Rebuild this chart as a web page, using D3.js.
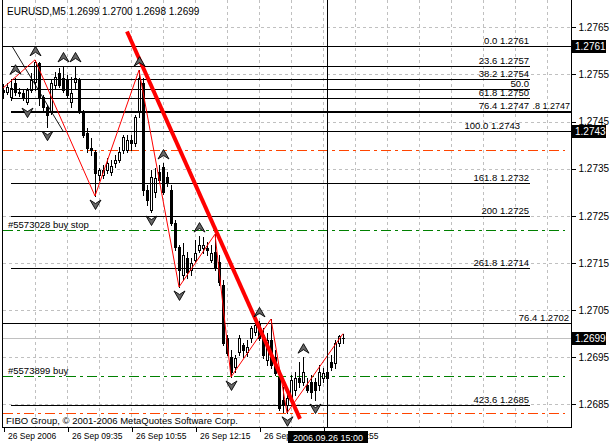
<!DOCTYPE html>
<html>
<head>
<meta charset="utf-8">
<title>EURUSD,M5</title>
<style>
  body { margin:0; background:#fff; }
  svg { display:block; font-family:"Liberation Sans", Arial, sans-serif; }
  .grid line { stroke:#c0c0c0; stroke-dasharray:3,3; shape-rendering:crispEdges; }
  .lbl { font-size:9.5px; fill:#000; }
  .axis text { font-size:10px; fill:#000; }
  .axis line { stroke:#000; shape-rendering:crispEdges; }
  .taxis text { font-size:8.5px; }
</style>
</head>
<body>
<svg id="chart" width="611" height="445"></svg>
<script src="https://cdn.jsdelivr.net/npm/d3@7"></script>
<script>
// 5 minute bars, 26 Sep 2006 from 08:15
var opens = [1.27517,1.27513,1.27502,1.27532,1.27513,1.27511,1.27491,1.27517,1.27534,1.27574,
  1.27502,1.27481,1.27470,1.27528,1.27553,1.27542,1.27538,1.27491,1.27534,1.27538,
  1.27470,1.27426,1.27394,1.27385,1.27337,1.27337,1.27347,1.27343,1.27362,1.27368,
  1.27390,1.27390,1.27411,1.27404,1.27470,1.27532,1.27305,1.27262,1.27301,1.27343,
  1.27354,1.27332,1.27305,1.27235,1.27184,1.27124,1.27160,1.27135,1.27156,1.27177,
  1.27182,1.27182,1.27156,1.27173,1.27152,1.27103,1.26991,1.26950,1.26929,1.26961,
  1.26976,1.26961,1.26991,1.27003,1.27023,1.26997,1.26944,1.26986,1.26950,1.26908,
  1.26859,1.26849,1.26863,1.26880,1.26906,1.26897,1.26891,1.26897,1.26897,1.26891,
  1.26906,1.26906,1.26940,1.26938,1.26980,1.26990];
var highs = [1.27530,1.27532,1.27538,1.27542,1.27521,1.27517,1.27521,1.27553,1.27581,1.27576,
  1.27506,1.27485,1.27538,1.27555,1.27564,1.27568,1.27549,1.27545,1.27568,1.27542,
  1.27475,1.27436,1.27415,1.27390,1.27351,1.27358,1.27373,1.27368,1.27379,1.27396,
  1.27421,1.27421,1.27421,1.27464,1.27559,1.27542,1.27315,1.27347,1.27351,1.27358,
  1.27362,1.27343,1.27315,1.27241,1.27188,1.27192,1.27173,1.27160,1.27199,1.27207,
  1.27205,1.27194,1.27188,1.27211,1.27167,1.27114,1.26997,1.26965,1.26955,1.26997,
  1.26980,1.26986,1.27016,1.27020,1.27027,1.27012,1.27001,1.27031,1.26965,1.26919,
  1.26887,1.26870,1.26912,1.26919,1.26940,1.26950,1.26906,1.26912,1.26906,1.26933,
  1.26927,1.26933,1.26955,1.26986,1.26998,1.27000];
var lows = [1.27500,1.27508,1.27496,1.27506,1.27504,1.27496,1.27487,1.27513,1.27517,1.27485,
  1.27475,1.27438,1.27466,1.27521,1.27523,1.27513,1.27502,1.27481,1.27521,1.27468,
  1.27417,1.27385,1.27379,1.27292,1.27326,1.27330,1.27341,1.27337,1.27354,1.27364,
  1.27383,1.27385,1.27390,1.27398,1.27460,1.27294,1.27273,1.27258,1.27290,1.27322,
  1.27296,1.27313,1.27230,1.27177,1.27099,1.27114,1.27118,1.27124,1.27152,1.27173,
  1.27171,1.27167,1.27152,1.27135,1.27103,1.26976,1.26955,1.26908,1.26919,1.26955,
  1.26950,1.26952,1.26982,1.26997,1.26986,1.26948,1.26933,1.26927,1.26912,1.26838,
  1.26834,1.26832,1.26855,1.26870,1.26887,1.26891,1.26876,1.26863,1.26859,1.26880,
  1.26897,1.26902,1.26923,1.26927,1.26974,1.26980];
var closes = [1.27513,1.27523,1.27521,1.27513,1.27511,1.27500,1.27517,1.27538,1.27576,1.27502,
  1.27481,1.27464,1.27532,1.27545,1.27528,1.27517,1.27506,1.27511,1.27542,1.27470,
  1.27421,1.27394,1.27390,1.27341,1.27347,1.27347,1.27362,1.27356,1.27368,1.27385,
  1.27417,1.27411,1.27404,1.27460,1.27542,1.27305,1.27284,1.27332,1.27330,1.27326,
  1.27301,1.27320,1.27235,1.27184,1.27135,1.27167,1.27131,1.27150,1.27171,1.27188,
  1.27188,1.27177,1.27171,1.27139,1.27110,1.26980,1.26959,1.26919,1.26948,1.26991,
  1.26965,1.26972,1.27012,1.27018,1.26991,1.26955,1.26986,1.26933,1.26916,1.26842,
  1.26849,1.26863,1.26902,1.26906,1.26897,1.26919,1.26880,1.26876,1.26880,1.26919,
  1.26916,1.26919,1.26929,1.26980,1.26995,1.26990];

var zzBars   = [0, 8, 23, 34, 44, 53, 57, 67, 71, 85];
var zzPrices = [1.27521, 1.27581, 1.27292, 1.27559, 1.27099, 1.27211, 1.26908, 1.27031, 1.26832, 1.27000];

var upFractals   = [3, 8, 15, 18, 34, 40, 49, 64, 75];
var downFractals = [6, 11, 23, 37, 44, 57, 71, 78];

var trendBars   = [31, 74.25];
var trendPrices = [1.27641, 1.26819];

var fibBars   = [2.25, 15];
var fibPrices = [1.2761, 1.2743];
var fibLevels = [1.2761, 1.27568, 1.27541, 1.2752, 1.27499, 1.27472, 1.2743, 1.27319, 1.2725, 1.27139, 1.26848];
var fibTexts  = ["0.0 1.2761", "23.6 1.2757", "38.2 1.2754", "50.0", "61.8 1.2750", "76.4 1.2747",
                 "100.0 1.2743", "161.8 1.2732", "200 1.2725", "261.8 1.2714", "423.6 1.2685"];

var hLines     = [1.2761, 1.2743, 1.27022];
var thickLine  = 1.27472;
var bidPrice   = 1.2699;
var redOrders  = [1.27389, 1.26831];
var greenOrders = [1.27220, 1.26909];
var greenTexts  = ["#5573028 buy stop", "#5573899 buy"];

var priceTicks = [1.2765, 1.2755, 1.2745, 1.2735, 1.2725, 1.2715, 1.2705, 1.2695, 1.2685];
var priceMarks = [1.2761, 1.2743, 1.2699];
var timeTicks  = [0, 16, 32, 48, 64, 80];
var timeLabels = ["26 Sep 2006", "26 Sep 09:35", "26 Sep 10:55", "26 Sep 12:15", "26 Sep 13:35", "26 Sep 14:55"];
var vLineBar = 81, vLineText = "2006.09.26 15:00";

var left = 3, right = 571.5, bottom = 427.5;

var x = d3.scaleLinear().domain([0, 142]).range([3, 571]);
var y = d3.scaleLinear().domain([1.2765, 1.2685]).range([27.3, 404.3]);
function px(v) { return Math.round(v) + 0.5; }

var svg = d3.select("#chart");

// grid
var grid = svg.append("g").attr("class", "grid");
grid.selectAll(".h").data(priceTicks).enter().append("line")
  .attr("x1", left).attr("x2", right)
  .attr("y1", function(d) { return px(y(d)); }).attr("y2", function(d) { return px(y(d)); });
grid.selectAll(".v").data(d3.range(8, 137, 8)).enter().append("line")
  .attr("x1", function(d) { return px(x(d)); }).attr("x2", function(d) { return px(x(d)); })
  .attr("y1", 0).attr("y2", bottom);

// order lines
svg.selectAll(".ored").data(redOrders).enter().append("line")
  .attr("x1", left).attr("x2", 565)
  .attr("y1", function(d) { return px(y(d)); }).attr("y2", function(d) { return px(y(d)); })
  .attr("stroke", "#ff4500").attr("stroke-dasharray", "10,4,3,4").attr("shape-rendering", "crispEdges");
svg.selectAll(".ogreen").data(greenOrders).enter().append("line")
  .attr("x1", left).attr("x2", 565)
  .attr("y1", function(d) { return px(y(d)); }).attr("y2", function(d) { return px(y(d)); })
  .attr("stroke", "#008000").attr("stroke-dasharray", "10,4,3,4").attr("shape-rendering", "crispEdges");
svg.selectAll(".otext").data(greenOrders).enter().append("text")
  .attr("class", "lbl").attr("x", 8).attr("y", function(d) { return y(d) - 2; })
  .text(function(d, i) { return greenTexts[i]; });

// bid line
svg.append("line").attr("x1", left).attr("x2", right)
  .attr("y1", px(y(bidPrice))).attr("y2", px(y(bidPrice)))
  .attr("stroke", "#c0c0c0").attr("shape-rendering", "crispEdges");

// candles
var bars = svg.append("g").attr("shape-rendering", "crispEdges");
opens.forEach(function(o, i) {
  var cx = Math.round(x(i)), c = closes[i];
  bars.append("line").attr("x1", cx + 0.5).attr("x2", cx + 0.5)
    .attr("y1", Math.round(y(highs[i]))).attr("y2", Math.round(y(lows[i])) + 1)
    .attr("stroke", "#000");
  var top = Math.round(y(Math.max(o, c))), bot = Math.round(y(Math.min(o, c)));
  if (bot - top < 1) {
    bars.append("line").attr("x1", cx - 1).attr("x2", cx + 2)
      .attr("y1", top + 0.5).attr("y2", top + 0.5).attr("stroke", "#000");
  } else if (c < o) {
    bars.append("rect").attr("x", cx - 1).attr("y", top).attr("width", 3).attr("height", bot - top + 1)
      .attr("fill", "#000");
  } else {
    bars.append("rect").attr("x", cx - 0.5).attr("y", top + 0.5).attr("width", 2).attr("height", bot - top)
      .attr("fill", "#fff").attr("stroke", "#000");
  }
});

// fibo levels
svg.selectAll(".fib").data(fibLevels).enter().append("line")
  .attr("x1", x(2)).attr("x2", 530)
  .attr("y1", function(d) { return px(y(d)); }).attr("y2", function(d) { return px(y(d)); })
  .attr("stroke", "#000").attr("shape-rendering", "crispEdges");
svg.selectAll(".fibt").data(fibLevels).enter().append("text")
  .attr("class", "lbl").attr("text-anchor", "end")
  .attr("x", function(d, i) { return i == 6 ? 520 : 529; })
  .attr("y", function(d) { return y(d) - 2; })
  .text(function(d, i) { return fibTexts[i]; });
svg.append("line")
  .attr("x1", x(fibBars[0])).attr("y1", y(fibPrices[0]))
  .attr("x2", x(fibBars[1])).attr("y2", y(fibPrices[1]))
  .attr("stroke", "#000").attr("stroke-width", 0.9);

// horizontal lines
svg.selectAll(".hl").data(hLines).enter().append("line")
  .attr("x1", left).attr("x2", right)
  .attr("y1", function(d) { return px(y(d)); }).attr("y2", function(d) { return px(y(d)); })
  .attr("stroke", "#000").attr("shape-rendering", "crispEdges");
svg.append("line").attr("x1", x(2)).attr("x2", right)
  .attr("y1", Math.round(y(thickLine)) + 0.5).attr("y2", Math.round(y(thickLine)) + 0.5)
  .attr("stroke", "#000").attr("stroke-width", 2).attr("shape-rendering", "crispEdges");
svg.append("text").attr("text-anchor", "end").attr("font-size", "9px")
  .attr("x", 570).attr("y", y(thickLine) - 2).text(".8 1.2747");
svg.append("text").attr("class", "lbl").attr("text-anchor", "end")
  .attr("x", 569).attr("y", y(hLines[2]) - 2).text("76.4 1.2702");

// zigzag
var zz = d3.line().x(function(d) { return x(d); }).y(function(d, i) { return y(zzPrices[i]); });
svg.append("path").attr("d", zz(zzBars)).attr("fill", "none").attr("stroke", "#ff0000").attr("stroke-width", 1);

// trendline
svg.append("line")
  .attr("x1", x(trendBars[0])).attr("y1", y(trendPrices[0]))
  .attr("x2", x(trendBars[1])).attr("y2", y(trendPrices[1]))
  .attr("stroke", "#ff0000").attr("stroke-width", 4);

// fractal arrows
svg.selectAll(".up").data(upFractals).enter().append("path")
  .attr("transform", function(d) { return "translate(" + (x(d) + 0.5) + "," + (y(highs[d]) - 9) + ")"; })
  .attr("d", "M-5.5,5 L0,-4.5 L5.5,5 L0,1.5 Z").attr("fill", "#666").attr("stroke", "#000").attr("stroke-width", 0.9);
svg.selectAll(".dn").data(downFractals).enter().append("path")
  .attr("transform", function(d) { return "translate(" + (x(d) + 0.5) + "," + (y(lows[d]) + 9) + ")"; })
  .attr("d", "M-5.5,-5 L0,4.5 L5.5,-5 L0,-1.5 Z").attr("fill", "#666").attr("stroke", "#000").attr("stroke-width", 0.9);

// vertical line
svg.append("line").attr("x1", px(x(vLineBar))).attr("x2", px(x(vLineBar)))
  .attr("y1", 0).attr("y2", bottom).attr("stroke", "#000").attr("shape-rendering", "crispEdges");

// border
svg.append("path").attr("d", "M" + (left - 0.5) + ",0 V" + bottom + " H" + right + " V0")
  .attr("fill", "none").attr("stroke", "#000").attr("shape-rendering", "crispEdges");

// price axis
var yAxis = d3.axisRight(y).tickValues(priceTicks).tickSize(4).tickFormat(d3.format(".4f"));
svg.append("g").attr("class", "axis").attr("transform", "translate(" + right + ",0)").call(yAxis)
  .call(function(g) { g.select(".domain").remove(); });

svg.selectAll(".mark").data(priceMarks).enter().append("rect")
  .attr("x", 572).attr("y", function(d) { return Math.round(y(d)) - 6; })
  .attr("width", 34).attr("height", 13).attr("fill", "#000");
svg.selectAll(".markt").data(priceMarks).enter().append("text")
  .attr("x", 575).attr("y", function(d) { return y(d) + 4; })
  .attr("font-size", "10px").attr("fill", "#fff").text(function(d) { return d.toFixed(4); });

// time axis (the label under the vertical line hides part of the 13:35 and 14:55 labels, as in MetaTrader)
var xAxis = d3.axisBottom(x).tickValues(timeTicks).tickSize(4)
  .tickFormat(function(d, i) { return timeLabels[i]; });
svg.append("g").attr("class", "axis taxis").attr("transform", "translate(0.5," + bottom + ")").call(xAxis)
  .call(function(g) { g.select(".domain").remove(); })
  .selectAll("text").attr("text-anchor", "start").attr("x", 4).attr("y", 5);

svg.append("rect").attr("x", Math.round(x(vLineBar)) - 39).attr("y", 431)
  .attr("width", 80).attr("height", 12).attr("fill", "#000");
svg.append("text").attr("x", x(vLineBar) + 1).attr("y", 440.5).attr("text-anchor", "middle")
  .attr("font-size", "9px").attr("fill", "#fff").text(vLineText);

// title and copyright
svg.append("text").attr("x", 7).attr("y", 15).attr("font-size", "10px")
  .text("EURUSD,M5  1.2699 1.2700 1.2698 1.2699");
svg.append("text").attr("class", "lbl").attr("x", 6).attr("y", 424)
  .text("FIBO Group, \u00a9 2001-2006 MetaQuotes Software Corp.");
</script>
</body>
</html>
